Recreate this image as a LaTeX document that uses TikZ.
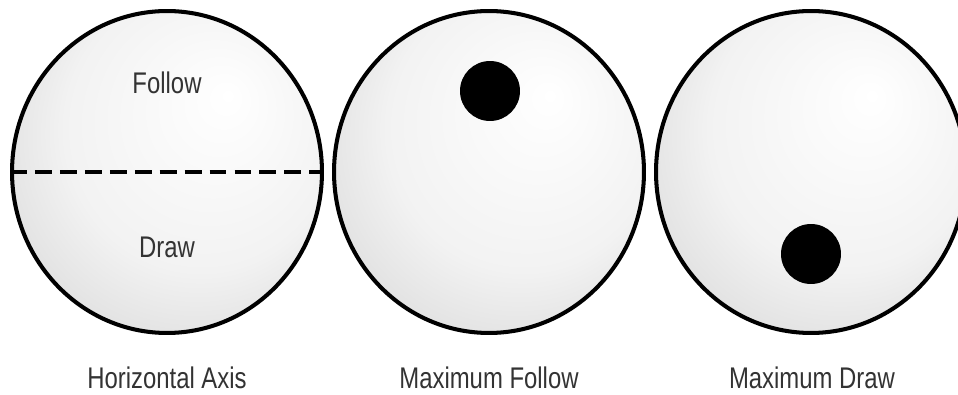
\documentclass[tikz,border=0pt]{standalone}
\usepackage{fontspec}
\newfontfamily\lblfont[FakeStretch=0.8]{Liberation Sans}
\usetikzlibrary{
	shapes.geometric,
	positioning
}
\pgfdeclareradialshading{ballfill}{\pgfpoint{10bp}{12bp}}{%
	color(0bp)=(white); color(22bp)=(white!95!black); color(50bp)=(white!76!black)}

\begin{document}
\begin{tikzpicture}[
					x=0.02cm, y=-0.02cm,
					ball/.style={
							ellipse,
							draw=black,
							line width=2.3pt,
							shade,
							shading=ballfill,
							minimum width=6.2cm,
							minimum height=6.44cm,
							inner sep=0pt
						},
					spot/.style={
							circle,
							fill=black,
							minimum size=1.2cm,
							inner sep=0pt
						},
					lbl/.style={
							font=\lblfont\fontsize{17}{20}\selectfont,
							text=black!80
						},
					axisline/.style={
							line width=2.6pt,
							dash pattern=on 9.6pt off 4.6pt
						}
				]
				\useasboundingbox (0,0) rectangle (958,395);

				% the three balls
				\node[ball] (ballH) at (167, 172) {};
				\node[ball] (ballF) at (489, 172) {};
				\node[ball] (ballD) at (811, 172) {};

				% horizontal axis
				\draw[axisline] (ballH.west) -- (ballH.east);
				\node[lbl] (follow) at (167, 83) {Follow};
				\node[lbl] (draw) at (167, 247) {Draw};

				% contact spots
				\node[spot] (spotF) at (490, 91) {};
				\node[spot] (spotD) at (811, 254) {};

				\node[lbl] (capH) at (167, 378) {Horizontal Axis};
				\node[lbl] (capF) at (489, 378) {Maximum Follow};
				\node[lbl] (capD) at (812, 378) {Maximum Draw};
		\end{tikzpicture}
\end{document}
